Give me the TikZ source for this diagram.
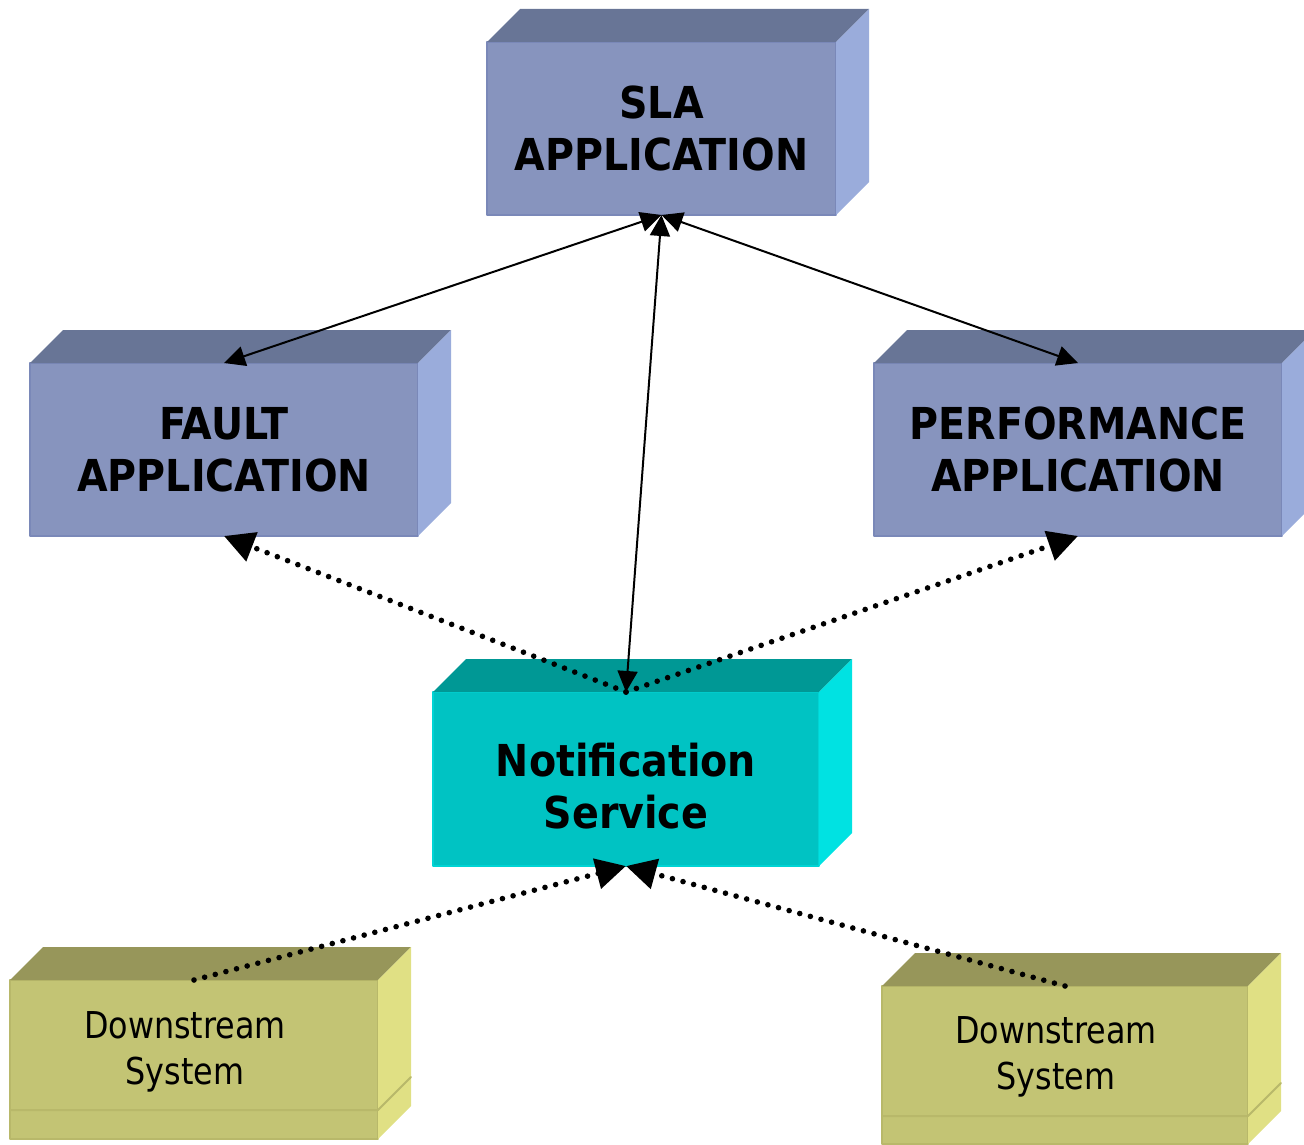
\documentclass[tikz,border=0pt]{standalone}
\usepackage{fontspec}
\setmainfont{DejaVu Sans}
\newfontfamily\titlefont{DejaVu Sans}[FakeStretch=0.9]
\newfontfamily\plainfont{DejaVu Sans}[FakeStretch=0.86]
\usetikzlibrary{arrows.meta}

\definecolor{slafront}{RGB}{135,148,190}
\definecolor{slatop}{RGB}{104,117,150}
\definecolor{slaside}{RGB}{154,172,219}
\definecolor{slaedge}{RGB}{122,136,184}
\definecolor{notiffront}{RGB}{0,195,195}
\definecolor{notiftop}{RGB}{0,152,149}
\definecolor{notifside}{RGB}{0,226,226}
\definecolor{notifedge}{RGB}{0,212,212}
\definecolor{dsfront}{RGB}{195,196,116}
\definecolor{dstop}{RGB}{151,150,90}
\definecolor{dsside}{RGB}{224,224,132}
\definecolor{dsedge}{RGB}{184,184,106}

% top and side faces behind a front node
\newcommand{\boxdepth}[3]{%
  \fill[#2] (#1.north west) -- ++(33,-33) -- ([shift={(33,-33)}]#1.north east) -- (#1.north east) -- cycle;
  \fill[#3] (#1.north east) -- ++(33,-33) -- ([shift={(33,-33)}]#1.south east) -- (#1.south east) -- cycle;}

\begin{document}
\begin{tikzpicture}[x=0.5pt,y=-0.5pt,line cap=round,line join=round,
    appbox/.style={inner sep=0pt,outer sep=0pt,align=center,line width=0.8pt,
      font=\titlefont\bfseries\fontsize{22}{26}\selectfont},
    dsbox/.style={inner sep=0pt,outer sep=0pt,line width=0.8pt,fill=dsfront,draw=dsedge},
    dstext/.style={inner sep=0pt,align=center,font=\plainfont\fontsize{18.5}{23}\selectfont},
    solidarrow/.style={{Triangle[length=10.5pt,width=10pt]}-{Triangle[length=10.5pt,width=10pt]},line width=1pt},
    dotarrow/.style={-{Triangle[length=15pt,width=15pt]},line width=2.8pt,dash pattern=on 0pt off 5.5pt}]
  \clip (0,0) rectangle (1304,1144);
  \useasboundingbox (0,0) rectangle (1304,1144);

  \node[appbox,fill=slafront,draw=slaedge,minimum width=174.5pt,minimum height=86.5pt] (sla) at (661.5,128.5) {SLA\\APPLICATION};
  \node[appbox,fill=slafront,draw=slaedge,minimum width=194pt,minimum height=86.5pt] (fault) at (224,449.5) {FAULT\\APPLICATION};
  \node[appbox,fill=slafront,draw=slaedge,minimum width=204pt,minimum height=86.5pt] (perf) at (1078,449.5) {PERFORMANCE\\APPLICATION};
  \node[appbox,fill=notiffront,draw=notifedge,minimum width=193pt,minimum height=87pt] (notif) at (626,779) {};
  \node[appbox] (notiftext) at (626,786) {Notification\\Service};
  \node[dsbox,minimum width=184pt,minimum height=79.5pt] (ds1) at (194,1059.5) {};
  \node[dstext] (ds1text) at (185,1052) {Downstream\\System};
  \node[dsbox,minimum width=183pt,minimum height=79pt] (ds2) at (1065,1065) {};
  \node[dstext] (ds2text) at (1056,1057) {Downstream\\System};

  \boxdepth{sla}{slatop}{slaside}
  \boxdepth{fault}{slatop}{slaside}
  \boxdepth{perf}{slatop}{slaside}
  \boxdepth{notif}{notiftop}{notifside}
  \boxdepth{ds1}{dstop}{dsside}
  \boxdepth{ds2}{dstop}{dsside}

  \draw[dsedge,line width=1pt] ([yshift=14.5pt]ds1.south west) -- ([yshift=14.5pt]ds1.south east) -- ++(33,-33);
  \draw[dsedge,line width=1pt] ([yshift=14pt]ds2.south west) -- ([yshift=14pt]ds2.south east) -- ++(33,-33);

  \draw[solidarrow] (fault.north) -- (sla.south);
  \draw[solidarrow] (perf.north) -- (sla.south);
  \draw[solidarrow] (notif.north) -- (sla.south);

  \draw[dotarrow] (notif.north) -- (fault.south);
  \draw[dotarrow] (notif.north) -- (perf.south);
  \draw[dotarrow] (ds1.north) -- (notif.south);
  \draw[dotarrow] (ds2.north) -- (notif.south);
\end{tikzpicture}
\end{document}
